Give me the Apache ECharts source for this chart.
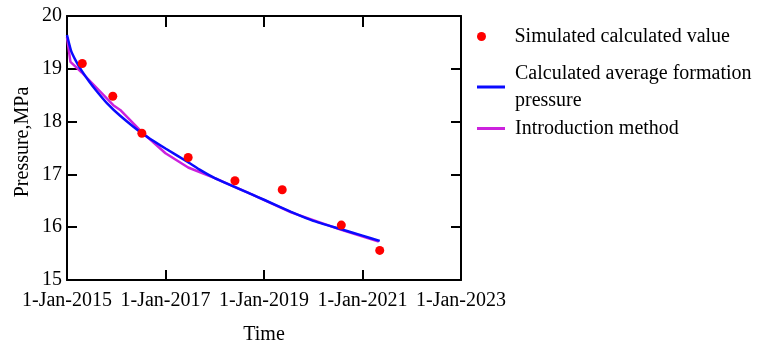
<!DOCTYPE html>
<html>
<head>
<meta charset="utf-8">
<script src="https://cdn.jsdelivr.net/npm/echarts@6/dist/echarts.min.js"></script>
<style>html,body{margin:0;padding:0;background:#fff}#c{width:760px;height:342px}</style>
</head>
<body>
<div id="c"></div>
<script>
// Time in decimal years
var xTicks = [2015, 2017, 2019, 2021, 2023];
var simYears = [2015.31, 2015.93, 2016.52, 2017.46, 2018.41, 2019.37, 2020.57, 2021.35];
var simValues = [19.10, 18.48, 17.78, 17.32, 16.88, 16.71, 16.04, 15.56];

var avgYears = [2015.00, 2015.08, 2015.18, 2015.30, 2015.45, 2015.60, 2015.81, 2016.08, 2016.52, 2017.00, 2017.46, 2017.71, 2018.00, 2018.73, 2019.00, 2019.55, 2020.00, 2020.57, 2021.00, 2021.35];
var avgValues = [19.64, 19.35, 19.15, 18.96, 18.76, 18.58, 18.35, 18.11, 17.78, 17.49, 17.23, 17.08, 16.93, 16.63, 16.52, 16.29, 16.12, 15.96, 15.84, 15.74];

var introYears = [2015.00, 2015.07, 2015.30, 2015.94, 2016.08, 2016.52, 2017.00, 2017.46, 2018.00, 2018.73, 2019.55, 2020.57, 2021.33];
var introValues = [19.60, 19.13, 18.93, 18.31, 18.22, 17.80, 17.40, 17.13, 16.93, 16.63, 16.28, 15.95, 15.73];

function zip(a, b) { return a.map(function (v, i) { return [v, b[i]]; }); }

var FONT = 'Liberation Serif';
var FS = 20;
var chart = echarts.init(document.getElementById('c'), null, {renderer: 'canvas'});
var axisLine = {show: true, lineStyle: {color: '#000', width: 2}};
function legendText(padLeft) {
  return {fontFamily: FONT, fontSize: FS, color: '#000', lineHeight: 27, padding: [0, 0, 0, padLeft]};
}
var legendBase = {orient: 'vertical', left: 472, itemWidth: 28, itemHeight: 9, selectedMode: false};
chart.setOption({
  animation: false,
  grid: {left: 67, right: 299, top: 16, bottom: 62, containLabel: false, outerBoundsMode: 'none'},
  legend: [
    Object.assign({}, legendBase, {top: 18, textStyle: legendText(14),
      data: [{name: 'Simulated calculated value', icon: 'circle', itemStyle: {color: '#ff0000', opacity: 1}}]}),
    Object.assign({}, legendBase, {top: 55, itemHeight: 3, textStyle: legendText(5),
      data: [{name: 'Calculated average formation\npressure', icon: 'rect', itemStyle: {color: '#0a0aff'}}]}),
    Object.assign({}, legendBase, {top: 110, itemHeight: 3, textStyle: legendText(5),
      data: [{name: 'Introduction method', icon: 'rect', itemStyle: {color: '#cc22dd'}}]})
  ],
  xAxis: [{
    type: 'value', min: 2015, max: 2023, interval: 2,
    name: 'Time', nameLocation: 'middle', nameGap: 45,
    nameTextStyle: {fontFamily: FONT, fontSize: FS, color: '#000'},
    axisLine: axisLine,
    axisTick: {show: true, inside: true, length: 10, lineStyle: {color: '#000', width: 2}},
    axisLabel: {fontFamily: FONT, fontSize: FS, color: '#000', margin: 11,
      formatter: function (v) { return xTicks.indexOf(v) >= 0 ? '1-Jan-' + v : ''; }},
    splitLine: {show: false}
  }, {
    type: 'value', position: 'top', min: 2015, max: 2023, interval: 2,
    axisLine: axisLine,
    axisTick: {show: true, inside: true, length: 11, lineStyle: {color: '#000', width: 2}},
    axisLabel: {show: false}, splitLine: {show: false}
  }],
  yAxis: [{
    type: 'value', min: 15, max: 20, interval: 1,
    name: 'Pressure,MPa', nameLocation: 'middle', nameGap: 34, nameMoveOverlap: false,
    nameTextStyle: {fontFamily: FONT, fontSize: FS, color: '#000', padding: [0, 0, 0, 12]},
    axisLine: axisLine,
    axisTick: {show: true, inside: true, length: 10, lineStyle: {color: '#000', width: 2}},
    axisLabel: {fontFamily: FONT, fontSize: FS, color: '#000', margin: 5},
    splitLine: {show: false}
  }, {
    type: 'value', position: 'right', min: 15, max: 20, interval: 1,
    axisLine: axisLine,
    axisTick: {show: true, inside: true, length: 10, lineStyle: {color: '#000', width: 2}},
    axisLabel: {show: false}, splitLine: {show: false}
  }],
  series: [{
    name: 'Introduction method', type: 'line', data: zip(introYears, introValues),
    symbol: 'none', smooth: false, lineStyle: {color: '#cc22dd', width: 2.5}, itemStyle: {color: '#cc22dd'}, z: 2
  }, {
    name: 'Calculated average formation\npressure', type: 'line', data: zip(avgYears, avgValues),
    symbol: 'none', smooth: 0.15, lineStyle: {color: '#0a0aff', width: 2.5}, itemStyle: {color: '#0a0aff'}, z: 3
  }, {
    name: 'Simulated calculated value', type: 'scatter', data: zip(simYears, simValues),
    symbol: 'circle', symbolSize: 9, itemStyle: {color: '#ff0000', opacity: 1}, z: 4
  }]
});
</script>
</body>
</html>
